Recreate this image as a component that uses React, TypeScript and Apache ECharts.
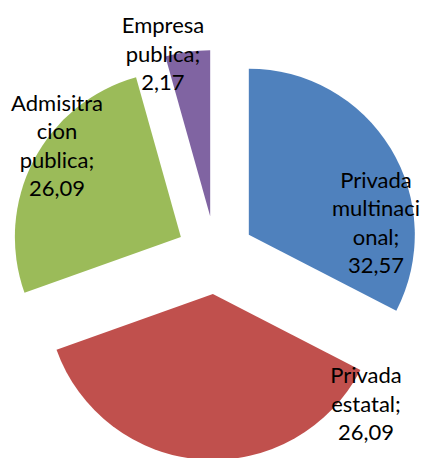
import React, { useEffect, useRef } from "react";
import * as echarts from "echarts";

const categories = ["Privada multinacional", "Privada estatal", "Admisitracion publica", "Empresa publica"];
const labelNames = ["Privada\nmultinaci\nonal;", "Privada\nestatal;", "Admisitra\ncion\npublica;", "Empresa\npublica;"];
const labelValues = ["32,57", "26,09", "26,09", "2,17"];
// slice sizes as drawn (share of the circle)
const sliceShares = [32.57, 36.96, 26.09, 4.35];
const colors = ["#4F81BD", "#C0504D", "#9BBB59", "#8064A2"];
const labelPos = [
  [376, 222],
  [366, 403],
  [57, 145],
  [163, 53],
];

export default function App() {
  const ref = useRef<HTMLDivElement>(null);
  useEffect(() => {
    const chart = echarts.init(ref.current!, null, { renderer: "svg" });
    const common = {
      type: "pie",
      center: [215.5, 255],
      radius: [0, 166],
      startAngle: 90,
      clockwise: true,
      avoidLabelOverlap: false,
      emphasis: { disabled: true },
      labelLine: { show: false },
    };
    chart.setOption({
      animation: false,
      series: [
        {
          ...common,
          selectedMode: "multiple",
          selectedOffset: 39,
          label: { show: false },
          data: categories.map((c, i) => ({
            name: c,
            value: sliceShares[i],
            selected: true,
            itemStyle: { color: colors[i] },
            select: { itemStyle: { color: colors[i] } },
          })),
        },
        {
          ...common,
          silent: true,
          z: 5,
          itemStyle: { color: "rgba(0,0,0,0)" },
          label: {
            show: true,
            position: "inside",
            color: "#000",
            fontFamily: "Lato",
            fontSize: 22,
            lineHeight: 28.5,
            align: "center",
            formatter: (p: any) => labelNames[p.dataIndex] + "\n" + labelValues[p.dataIndex],
          },
          labelLayout: (p: any) => ({
            x: labelPos[p.dataIndex][0],
            y: labelPos[p.dataIndex][1],
            align: "center",
            verticalAlign: "middle",
          }),
          data: categories.map((c, i) => ({ name: c, value: sliceShares[i] })),
        },
      ],
    });
    return () => chart.dispose();
  }, []);
  return <div ref={ref} style={{ position: "absolute", left: 0, top: 0, width: 423, height: 458 }} />;
}
